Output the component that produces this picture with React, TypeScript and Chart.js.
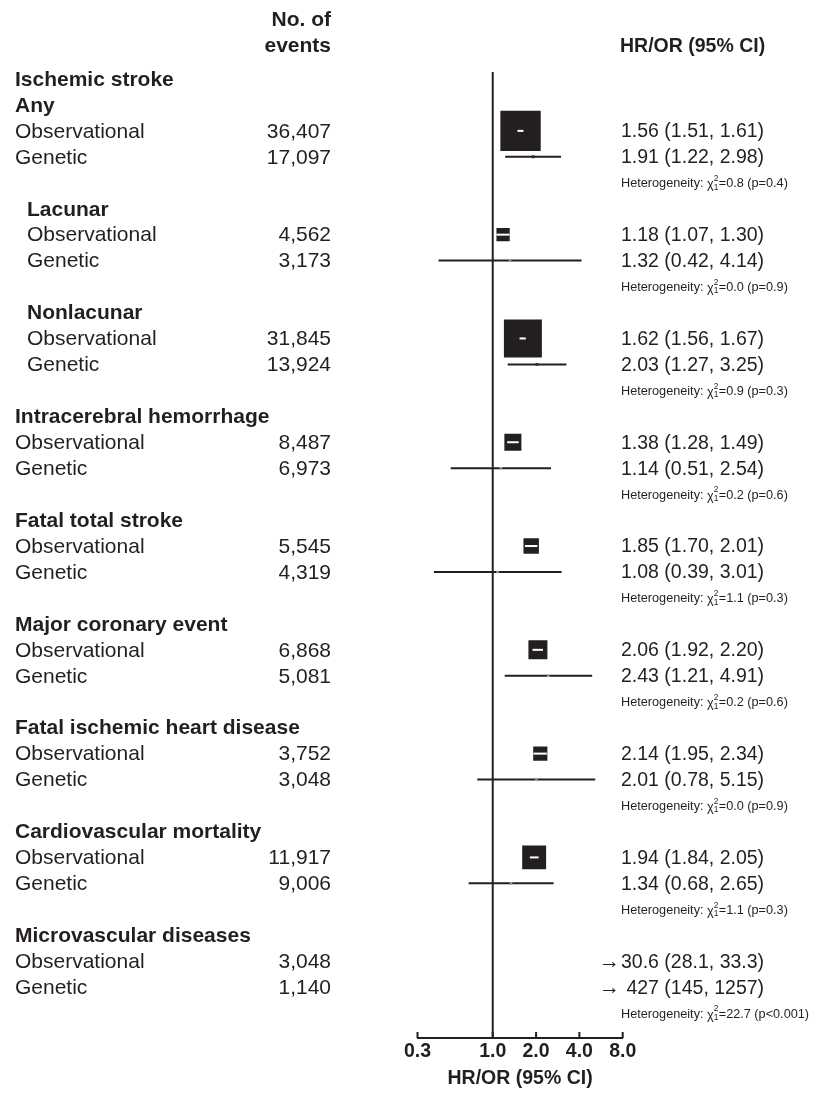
import React, { useEffect, useRef } from 'react';
import { Chart, registerables } from 'chart.js';

Chart.register(...registerables);

// ---------- data ----------
const outcomes = [
  'Any',
  'Lacunar',
  'Nonlacunar',
  'Intracerebral hemorrhage',
  'Fatal total stroke',
  'Major coronary event',
  'Fatal ischemic heart disease',
  'Cardiovascular mortality',
  'Microvascular diseases',
];
const parentHeading = 'Ischemic stroke';
const ischemicSubtypes = ['Lacunar', 'Nonlacunar'];
const analysisTypes = ['Observational', 'Genetic'];

const obsEvents = [36407, 4562, 31845, 8487, 5545, 6868, 3752, 11917, 3048];
const genEvents = [17097, 3173, 13924, 6973, 4319, 5081, 3048, 9006, 1140];

const obsEst = [1.56, 1.18, 1.62, 1.38, 1.85, 2.06, 2.14, 1.94, 30.6];
const obsLo = [1.51, 1.07, 1.56, 1.28, 1.70, 1.92, 1.95, 1.84, 28.1];
const obsHi = [1.61, 1.30, 1.67, 1.49, 2.01, 2.20, 2.34, 2.05, 33.3];

const genEst = [1.91, 1.32, 2.03, 1.14, 1.08, 2.43, 2.01, 1.34, 427];
const genLo = [1.22, 0.42, 1.27, 0.51, 0.39, 1.21, 0.78, 0.68, 145];
const genHi = [2.98, 4.14, 3.25, 2.54, 3.01, 4.91, 5.15, 2.65, 1257];

const hetChi = ['0.8', '0.0', '0.9', '0.2', '1.1', '0.2', '0.0', '1.1', '22.7'];
const hetP = ['0.4', '0.9', '0.3', '0.6', '0.3', '0.6', '0.9', '0.3', '<0.001'];

const xTicks = [0.3, 1, 2, 4, 8];
const axisTitle = 'HR/OR (95% CI)';
const eventsHeader = ['No. of', 'events'];

// ---------- helpers ----------
const INK = '#231f20';
const FONT = '"Liberation Sans", Arial, Helvetica, sans-serif';
const X_MIN = 0.3;
const X_MAX = 8;

const obsRow = (i: number) => 4 * i;
const genRow = (i: number) => 4 * i + 1;
const hetRow = (i: number) => 4 * i + 2;
const headRow = (i: number) => 4 * i - 1;

// box side proportional to inverse standard error (precision weighting)
const boxSide = (lo: number, hi: number) => {
  const se = (Math.log(hi) - Math.log(lo)) / 3.92;
  return 0.66 / se;
};

const fmt = (v: number) => (v >= 100 ? v.toFixed(0) : v >= 10 ? v.toFixed(1) : v.toFixed(2));
const fmtCI = (v: number, lo: number, hi: number) => `${fmt(v)} (${fmt(lo)}, ${fmt(hi)})`;

const forestPlugin = {
  id: 'forestPlugin',
  beforeDatasetsDraw(chart: any) {
    const { ctx, chartArea, scales } = chart;
    const x = scales.x;
    const y = scales.y;
    ctx.save();
    ctx.strokeStyle = INK;
    ctx.lineWidth = 2;
    ctx.lineCap = 'butt';
    // line of no effect
    const x1 = x.getPixelForValue(1);
    ctx.beginPath();
    ctx.moveTo(x1, chartArea.top);
    ctx.lineTo(x1, chartArea.bottom);
    ctx.stroke();
    // confidence intervals
    const drawCI = (lo: number, hi: number, row: number) => {
      if (lo > X_MAX || hi < X_MIN) return;
      const a = x.getPixelForValue(Math.max(lo, X_MIN));
      const b = x.getPixelForValue(Math.min(hi, X_MAX));
      const py = y.getPixelForValue(row);
      ctx.beginPath();
      ctx.moveTo(a, py);
      ctx.lineTo(b, py);
      ctx.stroke();
    };
    outcomes.forEach((_, i) => {
      drawCI(obsLo[i], obsHi[i], obsRow(i));
      drawCI(genLo[i], genHi[i], genRow(i));
    });
    ctx.restore();
  },
  afterDatasetsDraw(chart: any) {
    const { ctx, scales } = chart;
    const x = scales.x;
    const y = scales.y;
    ctx.save();
    ctx.strokeStyle = '#ffffff';
    ctx.lineWidth = 2;
    ctx.lineCap = 'square';
    outcomes.forEach((_, i) => {
      if (obsEst[i] > X_MAX) return;
      const cx = x.getPixelForValue(obsEst[i]);
      const half = boxSide(obsLo[i], obsHi[i]) / 2;
      const a = Math.max(x.getPixelForValue(obsLo[i]), cx - half + 1);
      const b = Math.min(x.getPixelForValue(obsHi[i]), cx + half - 1);
      const py = y.getPixelForValue(obsRow(i));
      ctx.beginPath();
      ctx.moveTo(a, py);
      ctx.lineTo(b, py);
      ctx.stroke();
    });
    ctx.restore();
  },
  afterDraw(chart: any) {
    const { ctx, chartArea, scales } = chart;
    const x = scales.x;
    const y = scales.y;
    ctx.save();
    // tick marks pointing up
    ctx.strokeStyle = INK;
    ctx.lineWidth = 2;
    xTicks.forEach((t) => {
      const px = x.getPixelForValue(t);
      ctx.beginPath();
      ctx.moveTo(px, chartArea.bottom);
      ctx.lineTo(px, chartArea.bottom - 6);
      ctx.stroke();
    });

    ctx.fillStyle = INK;
    ctx.textBaseline = 'middle';
    const LX = 15;
    const IND = 12;
    const NUMX = 331;
    const RX = 621;

    // header
    ctx.font = `bold 21px ${FONT}`;
    ctx.textAlign = 'right';
    ctx.fillText(eventsHeader[0], NUMX, y.getPixelForValue(-4.25));
    ctx.fillText(eventsHeader[1], NUMX, y.getPixelForValue(-3.25));
    ctx.textAlign = 'left';
    ctx.font = `bold 19.5px ${FONT}`;
    ctx.fillText(axisTitle, RX - 1, y.getPixelForValue(-3.25));

    ctx.font = `bold 21px ${FONT}`;
    ctx.fillText(parentHeading, LX, y.getPixelForValue(-2) + 1);

    outcomes.forEach((name, i) => {
      const indent = ischemicSubtypes.includes(name) ? IND : 0;
      ctx.textAlign = 'left';
      ctx.font = `bold 21px ${FONT}`;
      ctx.fillText(name, LX + indent, y.getPixelForValue(headRow(i)) + 1);

      ctx.font = `21px ${FONT}`;
      const oy = y.getPixelForValue(obsRow(i)) + 1;
      const gy = y.getPixelForValue(genRow(i)) + 1;
      ctx.fillText(analysisTypes[0], LX + indent, oy);
      ctx.fillText(analysisTypes[1], LX + indent, gy);
      ctx.textAlign = 'right';
      ctx.fillText(obsEvents[i].toLocaleString('en-US'), NUMX, oy);
      ctx.fillText(genEvents[i].toLocaleString('en-US'), NUMX, gy);

      // estimates
      const rows = [
        [obsEst[i], obsLo[i], obsHi[i], obsRow(i)],
        [genEst[i], genLo[i], genHi[i], genRow(i)],
      ];
      rows.forEach(([v, lo, hi, row]) => {
        const py = y.getPixelForValue(row) + 1;
        let txt = fmtCI(v, lo, hi);
        if (v > X_MAX) {
          ctx.textAlign = 'right';
          ctx.font = `21px ${FONT}`;
          ctx.fillText('\u2192', RX - 1, py);
          if (v >= 100) txt = ' ' + txt;
        }
        ctx.textAlign = 'left';
        ctx.font = `19.5px ${FONT}`;
        ctx.fillText(txt, RX, py);
      });

      // heterogeneity
      const hy = y.getPixelForValue(hetRow(i)) + 1;
      let cx = RX;
      ctx.textAlign = 'left';
      ctx.font = `12.7px ${FONT}`;
      const t1 = 'Heterogeneity: ';
      ctx.fillText(t1, cx, hy);
      cx += ctx.measureText(t1).width;
      ctx.fillText('\u03c7', cx, hy + 1);
      cx += ctx.measureText('\u03c7').width;
      ctx.font = `8.5px ${FONT}`;
      ctx.fillText('2', cx, hy - 5);
      ctx.fillText('1', cx, hy + 3.5);
      cx += ctx.measureText('2').width + 0.3;
      ctx.font = `12.7px ${FONT}`;
      const p = hetP[i].startsWith('<') ? `p${hetP[i]}` : `p=${hetP[i]}`;
      ctx.fillText(`=${hetChi[i]} (${p})`, cx, hy);
    });
    ctx.restore();
  },
};

export default function App() {
  const ref = useRef<HTMLCanvasElement>(null);

  useEffect(() => {
    document.body.style.margin = '0';
    const canvas = ref.current;
    if (!canvas) return;

    const visible = outcomes.map((_, i) => i).filter((i) => obsEst[i] <= X_MAX);
    const visibleGen = outcomes.map((_, i) => i).filter((i) => genEst[i] <= X_MAX);
    const genSides = visibleGen.map((i) => boxSide(genLo[i], genHi[i]));

    const chart = new Chart(canvas, {
      type: 'scatter',
      data: {
        datasets: [
          {
            label: analysisTypes[0],
            data: visible.map((i) => ({ x: obsEst[i], y: obsRow(i) })),
            pointStyle: 'rect',
            pointRadius: visible.map((i) => boxSide(obsLo[i], obsHi[i]) / Math.SQRT2),
            pointBackgroundColor: INK,
            pointBorderWidth: 0,
            pointBorderColor: INK,
          },
          {
            label: analysisTypes[1],
            data: visibleGen.map((i) => ({ x: genEst[i], y: genRow(i) })),
            pointStyle: 'rect',
            pointRadius: genSides.map((s) => Math.max(s, 2.6) / Math.SQRT2),
            pointBackgroundColor: genSides.map((s) => (s >= 2.5 ? '#333333' : '#9a9a9a')),
            pointBorderWidth: 0,
            pointBorderColor: INK,
          },
        ],
      },
      options: {
        responsive: false,
        animation: false,
        devicePixelRatio: 1,
        layout: {
          padding: { left: 417.5, right: 191.3, top: 72, bottom: 5.8 },
        },
        plugins: {
          legend: { display: false },
          tooltip: { enabled: false },
        },
        scales: {
          x: {
            type: 'logarithmic',
            min: X_MIN,
            max: X_MAX,
            afterBuildTicks: (axis: any) => {
              axis.ticks = xTicks.map((v) => ({ value: v }));
            },
            grid: { display: false, drawTicks: false },
            border: { display: true, color: INK, width: 2 },
            ticks: {
              autoSkip: false,
              maxRotation: 0,
              padding: 2,
              color: INK,
              font: { family: FONT, size: 19.5, weight: 'bold' },
              callback: (v: any) => Number(v).toFixed(1),
            },
            title: {
              display: true,
              text: axisTitle,
              color: INK,
              font: { family: FONT, size: 19.5, weight: 'bold' },
              padding: { top: 1.4, bottom: 0 },
            },
          },
          y: {
            type: 'linear',
            display: false,
            reverse: true,
            min: -2.269,
            max: 34.96,
          },
        },
      },
      plugins: [forestPlugin],
    } as any);

    return () => chart.destroy();
  }, []);

  return (
    <div style={{ width: 814, height: 1096, position: 'relative' }}>
      <canvas ref={ref} width={814} height={1096} style={{ display: 'block' }} />
    </div>
  );
}
